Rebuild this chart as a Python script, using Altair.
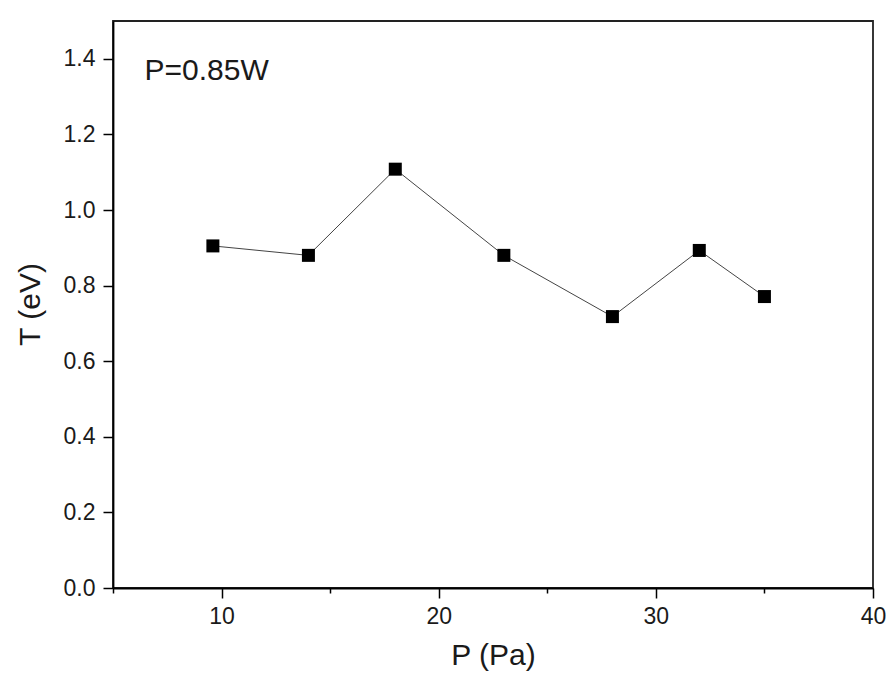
import altair as alt
import pandas as pd

# Data
pressure_pa = [9.6, 14.0, 18.0, 23.0, 28.0, 32.0, 35.0]
temperature_ev = [0.905, 0.880, 1.108, 0.880, 0.718, 0.893, 0.771]

x_ticks = [5, 10, 15, 20, 25, 30, 35, 40]
y_ticks = [0.0, 0.1, 0.2, 0.3, 0.4, 0.5, 0.6, 0.7, 0.8, 0.9, 1.0, 1.1, 1.2, 1.3, 1.4, 1.5]

annotation_text = ["P=0.85W"]
annotation_x = [6.45]
annotation_y = [1.344]

df = pd.DataFrame({"P": pressure_pa, "T": temperature_ev})
ann = pd.DataFrame({"label": annotation_text, "x": annotation_x, "y": annotation_y})

FONT = "Liberation Sans"

xs = alt.Scale(domain=[5, 40], nice=False, zero=False)
ys = alt.Scale(domain=[0, 1.5], nice=False, zero=False)

x_axis = alt.Axis(
    values=x_ticks,
    title="P (Pa)",
    grid=False,
    labelExpr="datum.value % 10 == 0 ? datum.label : ''",
    tickSize={"condition": {"test": "datum.value % 10 == 0", "value": 10}, "value": 5},
    tickColor="black",
    tickWidth=1.5,
    domainColor="black",
    domainWidth=1.8,
    labelFont=FONT,
    labelFontSize=23,
    labelColor="#1a1a1a",
    labelPadding=7,
    labelFlush=False,
    labelOverlap=False,
    titleFont=FONT,
    titleFontSize=30,
    titleFontWeight="normal",
    titleColor="#1a1a1a",
    titleY=76,
    titleBaseline="alphabetic",
    zindex=1,
)

y_axis = alt.Axis(
    values=y_ticks,
    title="T (eV)",
    grid=False,
    labelExpr="round(datum.value*10) % 2 == 0 ? format(datum.value, '.1f') : ''",
    tickSize={"condition": {"test": "round(datum.value*10) % 2 == 0", "value": 10}, "value": 5},
    tickColor="black",
    tickWidth=1.5,
    domainColor="black",
    domainWidth=1.8,
    labelFont=FONT,
    labelFontSize=23,
    labelColor="#1a1a1a",
    labelPadding=8,
    labelOverlap=False,
    titleFont=FONT,
    titleFontSize=30,
    titleFontWeight="normal",
    titleColor="#1a1a1a",
    titleAngle=-90,
    titleX=-83,
    titleY=283,
    titleAlign="center",
    titleBaseline="middle",
    zindex=1,
)

base = alt.Chart(df)

line = base.mark_line(color="#444444", strokeWidth=1).encode(
    x=alt.X("P:Q", scale=xs, axis=x_axis),
    y=alt.Y("T:Q", scale=ys, axis=y_axis),
)

points = base.mark_square(color="black", size=169, opacity=1).encode(
    x=alt.X("P:Q", scale=xs),
    y=alt.Y("T:Q", scale=ys),
)

text = alt.Chart(ann).mark_text(
    align="left", baseline="alphabetic", font=FONT, fontSize=30, color="#1a1a1a"
).encode(
    x=alt.X("x:Q", scale=xs),
    y=alt.Y("y:Q", scale=ys),
    text="label:N",
)

chart = (
    alt.layer(line, points, text)
    .properties(
        width=760,
        height=567,
        autosize=alt.AutoSizeParams(type="none"),
        padding={"left": 105, "top": 13, "right": 13, "bottom": 84},
        background="white",
    )
    .configure_view(stroke="#222222", strokeWidth=1.8)
)

chart.save("out.html", embed_options={"renderer": "svg", "actions": False})
